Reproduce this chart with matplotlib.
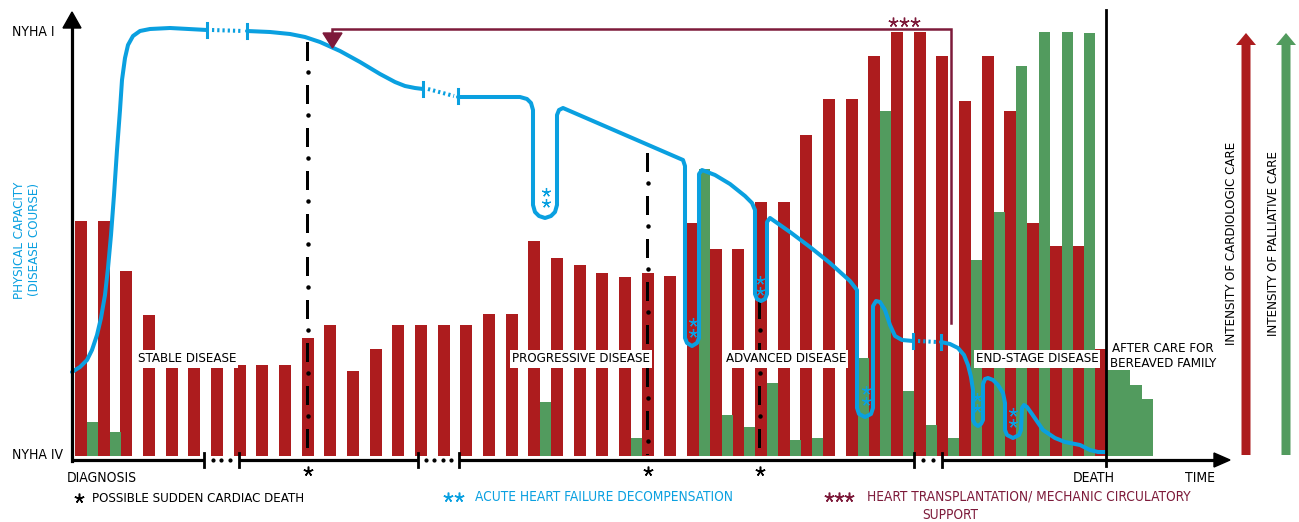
import numpy as np
import matplotlib
matplotlib.use("Agg")
import matplotlib.pyplot as plt
from matplotlib.patches import FancyArrow, Polygon

plt.rcParams['font.family'] = ['DejaVu Sans']
plt.rcParams['font.stretch'] = 'condensed'
plt.rcParams['font.size'] = 9.5

RED = '#ad1c1e'
GREEN = '#529b5e'
BLUE = '#0aa0e0'
MAROON = '#7d1a3a'

# intensity of cardiologic care (red) and palliative care (green), one slot per period
red_care = [235, 235, 185, 141, 106, 88, 88, 91, 91, 91, 118, 131, 85, 107, 131, 131,
            131, 131, 142, 142, 215, 198, 191, 183, 179, 183, 180, 233, 207, 207, 254,
            254, 321, 357, 357, 400, 424, 424, 400, 355, 400, 345, 233, 210, 210, 107]
green_care = [34, 24, 0, 0, 0, 0, 0, 0, 0, 0, 0, 0, 0, 0, 0, 0, 0, 0, 0, 0, 54, 0, 0,
              0, 18, 0, 0, 287, 41, 29, 73, 16, 18, 0, 98, 345, 65, 31, 18, 196, 244,
              390, 424, 424, 423]
after_care = [86, 86, 71, 57]

# physical capacity curve (time position, level in px from top)
seg_a_t = [72, 80, 87, 92, 97, 101, 105, 108, 111, 114, 117, 120, 122, 125, 128, 133, 140, 150, 170, 207]
seg_a_v = [372, 367, 360, 350, 335, 318, 295, 268, 235, 195, 150, 110, 80, 58, 45, 36, 31, 29, 28, 30]
seg_b_t = [247, 270, 290, 305, 320, 340, 360, 380, 395, 405, 415, 423]
seg_b_v = [31, 32, 34, 37, 42, 51, 62, 74, 82, 86, 88, 89]
seg_c_t = [458, 520, 527, 531, 533, 533, 535, 539, 545, 551, 555, 557, 557, 559, 563,
           683, 685, 685, 687, 692, 697, 699, 699, 702, 715, 730, 745, 752, 755, 755,
           757, 761, 765, 767, 767, 770, 790, 810, 830, 850, 857, 857, 859, 865, 871,
           873, 873, 876, 880, 885, 890, 895, 902, 913]
seg_c_v = [97, 97, 99, 103, 110, 205, 212, 216, 218, 216, 212, 205, 115, 110, 108,
           160, 166, 338, 343, 346, 343, 338, 174, 170, 175, 184, 196, 203, 210, 294,
           299, 301, 299, 294, 222, 218, 232, 247, 263, 281, 290, 408, 414, 417, 414,
           408, 306, 301, 302, 310, 325, 336, 340, 341]
seg_d_t = [941, 950, 958, 964, 968, 971, 973, 973, 975, 978, 981, 983, 983, 985, 988,
           993, 998, 1003, 1005, 1005, 1007, 1013, 1019, 1021, 1022, 1024, 1027, 1032,
           1043, 1055, 1065, 1080, 1090, 1098, 1105]
seg_d_v = [342, 344, 348, 355, 365, 377, 390, 420, 424, 426, 424, 420, 384, 379, 378,
           380, 385, 393, 403, 430, 435, 438, 435, 430, 408, 405, 407, 414, 430, 438,
           442, 445, 450, 452, 452]
breaks_t = [(207, 247), (423, 458), (913, 941)]
breaks_v = [(30, 31), (89, 96), (341, 342)]
decomp_t = [546, 693, 760, 866, 977, 1013]
decomp_v = [192, 322, 280, 390, 397, 412]
sudden_death_t = [308, 648, 760]
sudden_death_top = [42, 153, 300]
axis_breaks = [(204, 239, 3), (418, 459, 4), (914, 942, 2)]

BASE = 456
X0, STEP = 75, 22.67
STAR = (5, 2, 0)
DASH, PERIOD = 19, 43


def lv(v):
    return BASE - np.asarray(v, dtype=float)


fig = plt.figure(figsize=(12.99, 5.22), dpi=100)
ax = fig.add_axes([0, 0, 1, 1])
ax.set_xlim(0, 1299)
ax.set_ylim(BASE - 522, BASE)
ax.axis('off')

slots = X0 + STEP * np.arange(len(red_care))
ax.bar(slots, red_care, width=12, align='edge', color=RED, zorder=2)
gs = slots[:len(green_care)] + 12
ax.bar(gs, green_care, width=11, align='edge', color=GREEN, zorder=2)
ac = slots[-1] + 12 + 11.5 * np.arange(len(after_care))
ax.bar(ac, after_care, width=11.5, align='edge', color=GREEN, zorder=2)

# sudden cardiac death lines: long dash, dot
for t, top in zip(sudden_death_t, sudden_death_top):
    starts = np.arange(top, 455, PERIOD)
    ends = np.minimum(starts + DASH, 455)
    ax.bar(np.full(len(starts), t), ends - starts, bottom=lv(ends), width=3,
           color='black', zorder=3)
    dots = starts + DASH + 11
    dots = dots[dots < 455]
    ax.plot(np.full(len(dots), t), lv(dots), ls='none', marker='o', ms=2.2,
            color='black', zorder=3)
    ax.plot(t, lv(471), marker=STAR, ms=7, color='black', mew=1.1, zorder=3)

# disease course
for t, v in [(seg_a_t, seg_a_v), (seg_b_t, seg_b_v), (seg_c_t, seg_c_v), (seg_d_t, seg_d_v)]:
    ax.plot(t, lv(v), color=BLUE, lw=2.9, solid_joinstyle='round',
            solid_capstyle='round', zorder=4)
for (t1, t2), (v1, v2) in zip(breaks_t, breaks_v):
    dl, = ax.plot([t1 + 5, t2 - 4], lv([v1, v2]), color=BLUE, lw=2.9, zorder=4)
    dl.set_dashes([0.55, 0.75])
    for t, v in ((t1, v1), (t2, v2)):
        ax.plot([t, t], lv([v - 7, v + 7]), color=BLUE, lw=2.2, zorder=4)
for t, v in zip(decomp_t, decomp_v):
    ax.plot([t, t], lv([v, v + 11]), ls='none', marker=STAR, ms=6.5,
            color=BLUE, mew=0.9, zorder=5)

# time axis with breaks
cuts = [72] + [c for b in axis_breaks for c in b[:2]] + [1216]
for a, b in zip(cuts[::2], cuts[1::2]):
    ax.plot([a, b], lv([460, 460]), color='black', lw=2.3, zorder=5,
            solid_capstyle='butt')
for a, b, n in axis_breaks:
    for c in (a, b):
        ax.plot([c, c], lv([453, 467]), color='black', lw=2, zorder=5)
    dots = np.linspace(a, b, n + 2)[1:-1]
    ax.plot(dots, lv([460] * n), ls='none', marker='o', ms=2, color='black', zorder=5)
ax.add_patch(Polygon([[1214, lv(453)], [1214, lv(467)], [1230, lv(460)]],
                     closed=True, color='black', zorder=5))
ax.plot([72, 72], lv([461, 27]), color='black', lw=2.3, zorder=5)
ax.add_patch(Polygon([[63, lv(28)], [81, lv(28)], [72, lv(12)]],
                     closed=True, color='black', zorder=5))
ax.plot([1106, 1106], lv([10, 466]), color='black', lw=2, zorder=5)

# transplantation arrow
ax.plot([951, 951, 332, 332], lv([323, 29, 29, 35]), color=MAROON, lw=1.8, zorder=5,
        solid_joinstyle='miter')
ax.add_patch(Polygon([[323, lv(33)], [342, lv(33)], [332.5, lv(48)]],
                     closed=True, color=MAROON, zorder=5))
ax.plot([893, 904, 915], lv([22, 22, 22]), ls='none', marker=STAR, ms=7,
        color=MAROON, mew=1, zorder=5)

# intensity arrows
ax.add_patch(FancyArrow(1246, lv(455), 0, 422, width=9, head_width=20, head_length=12,
                        length_includes_head=True, color=RED, lw=0))
ax.add_patch(FancyArrow(1286, lv(455), 0, 422, width=9, head_width=20, head_length=12,
                        length_includes_head=True, color=GREEN, lw=0))

# texts
ax.text(12, lv(32), 'NYHA I', va='center', ha='left', fontsize=10)
ax.text(12, lv(455), 'NYHA IV', va='center', ha='left', fontsize=10)
ax.text(67, lv(478), 'DIAGNOSIS', va='center', ha='left', fontsize=10)
ax.text(1094, lv(478), 'DEATH', va='center', ha='center', fontsize=10)
ax.text(1200, lv(478), 'TIME', va='center', ha='center', fontsize=10)
ax.text(1163, lv(356), 'AFTER CARE FOR\nBEREAVED FAMILY', va='center', ha='center',
        linespacing=1.2, zorder=6)
box = dict(facecolor='white', edgecolor='none', pad=1.5)
for txt, x in [('STABLE DISEASE', 187), ('PROGRESSIVE DISEASE', 581),
               ('ADVANCED DISEASE', 786), ('END-STAGE DISEASE', 1037)]:
    ax.text(x, lv(359), txt, va='center', ha='center', bbox=box, zorder=6)
ax.text(27, lv(240), 'PHYSICAL CAPACITY\n(DISEASE COURSE)', rotation=90, va='center',
        ha='center', color=BLUE, linespacing=1.2)
ax.text(1232, lv(243), 'INTENSITY OF CARDIOLOGIC CARE', rotation=90, va='center', ha='center')
ax.text(1274, lv(243), 'INTENSITY OF PALLIATIVE CARE', rotation=90, va='center', ha='center')

# legend
ax.plot(79, lv(498), marker=STAR, ms=7, color='black', mew=1.1)
ax.text(92, lv(498), 'POSSIBLE SUDDEN CARDIAC DEATH', va='center', ha='left')
ax.plot([448, 459], lv([497, 497]), ls='none', marker=STAR, ms=7, color=BLUE, mew=1.1)
ax.text(475, lv(497), 'ACUTE HEART FAILURE DECOMPENSATION', va='center', ha='left',
        color=BLUE, fontsize=9.8)
ax.plot([829, 839, 849], lv([497, 497, 497]), ls='none', marker=STAR, ms=7,
        color=MAROON, mew=1.1)
ax.text(867, lv(496), 'HEART TRANSPLANTATION/ MECHANIC CIRCULATORY', va='center',
        ha='left', color=MAROON, fontsize=9.8)
ax.text(950, lv(515), 'SUPPORT', va='center', ha='center', color=MAROON, fontsize=9.8)

fig.savefig('out.png', dpi=100)
